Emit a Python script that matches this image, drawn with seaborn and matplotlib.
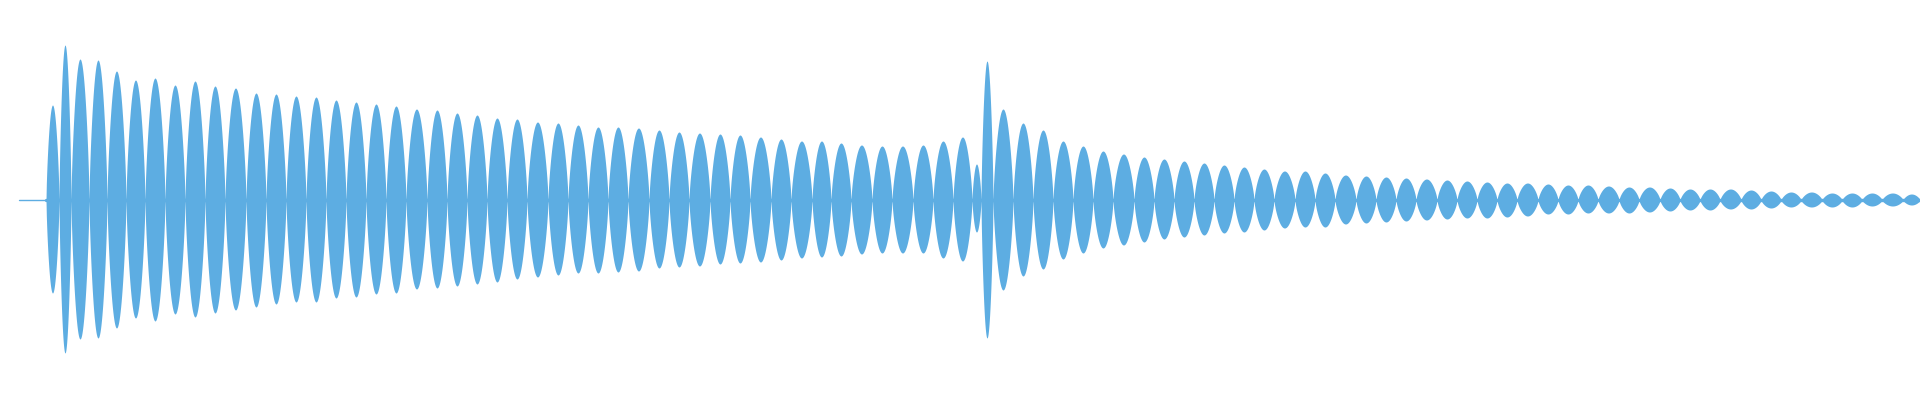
import numpy as np
import pandas as pd
import matplotlib
matplotlib.use("Agg")
import matplotlib.pyplot as plt
import seaborn as sns

# lobe boundaries (sample position) and peak levels of each beat lobe
lobe_edges = [46, 59, 71, 89, 107, 126, 145, 165, 185, 205,
              225, 246, 266, 286, 306, 326, 346, 366, 386, 406,
              427, 447, 467, 487, 507, 527, 548, 568, 588, 608,
              628, 649, 669, 689, 710, 730, 750, 771, 791, 812,
              831, 851, 872, 892, 913, 933, 953, 972, 981, 993,
              1013, 1033, 1053, 1073, 1093, 1113, 1134, 1154, 1174, 1194,
              1214, 1234, 1254, 1274, 1295, 1315, 1335, 1356, 1376, 1396,
              1416, 1437, 1457, 1477, 1497, 1517, 1538, 1558, 1578, 1598,
              1619, 1639, 1660, 1680, 1700, 1720, 1741, 1761, 1781, 1801,
              1822, 1842, 1862, 1882, 1903, 1920]

peak_top = [95, 155, 141, 140, 129, 120, 122, 115, 119, 114,
            112, 107, 106, 104, 103, 100, 98, 96, 94, 91,
            90, 87, 85, 82, 81, 78, 77, 75, 73, 73,
            72, 70, 68, 67, 66, 65, 63, 61, 59, 59,
            57, 55, 54, 54, 55, 59, 63, 36, 139, 91,
            77, 70, 59, 54, 49, 46, 43, 41, 39, 37,
            35, 33, 31, 29, 29, 27, 25, 24, 23, 22,
            21, 20, 19, 18, 17, 17, 16, 15, 15, 14,
            13, 13, 12, 11, 11, 11, 10, 9, 8, 8,
            7, 7, 7, 7, 6]

peak_bottom = [93, 153, 139, 138, 128, 118, 121, 114, 117, 113,
               110, 107, 104, 102, 102, 98, 97, 94, 93, 89,
               88, 86, 84, 82, 79, 77, 75, 73, 73, 72,
               71, 68, 67, 66, 64, 63, 62, 60, 58, 57,
               56, 54, 53, 53, 53, 58, 61, 32, 138, 90,
               76, 69, 59, 53, 48, 45, 42, 39, 37, 35,
               33, 32, 30, 28, 27, 27, 24, 23, 22, 21,
               20, 19, 18, 18, 17, 16, 14, 14, 13, 13,
               13, 12, 11, 10, 10, 9, 9, 8, 7, 7,
               7, 7, 6, 6, 5]

lead_in = [19, 46]  # quiet part before the attack

color = "#5dade2"

rows = []
for i in range(len(peak_top)):
    x = np.linspace(lobe_edges[i], lobe_edges[i + 1], 40)
    s = np.sin(np.linspace(0, np.pi, 40)) ** 0.7
    for xx, ss in zip(x, s):
        rows.append({"t": xx, "hi": ss * peak_top[i], "lo": -ss * peak_bottom[i]})
env = pd.DataFrame(rows)

sns.set_theme(style="white")
fig = plt.figure(figsize=(19.2, 4), dpi=100)
ax = fig.add_axes([0, 0, 1, 1])

ax.fill_between(env["t"], env["lo"], env["hi"], color=color, lw=0)
sns.lineplot(x=[lead_in[0], lead_in[1]], y=[0, 0], ax=ax, color=color, lw=1)
sns.lineplot(x=[lobe_edges[0], lobe_edges[-1]], y=[0, 0], ax=ax, color=color, lw=2.4)

ax.set_xlim(0, 1920)
ax.set_ylim(-200, 200)
ax.set_axis_off()

fig.savefig("out.png", dpi=100, facecolor="white")
